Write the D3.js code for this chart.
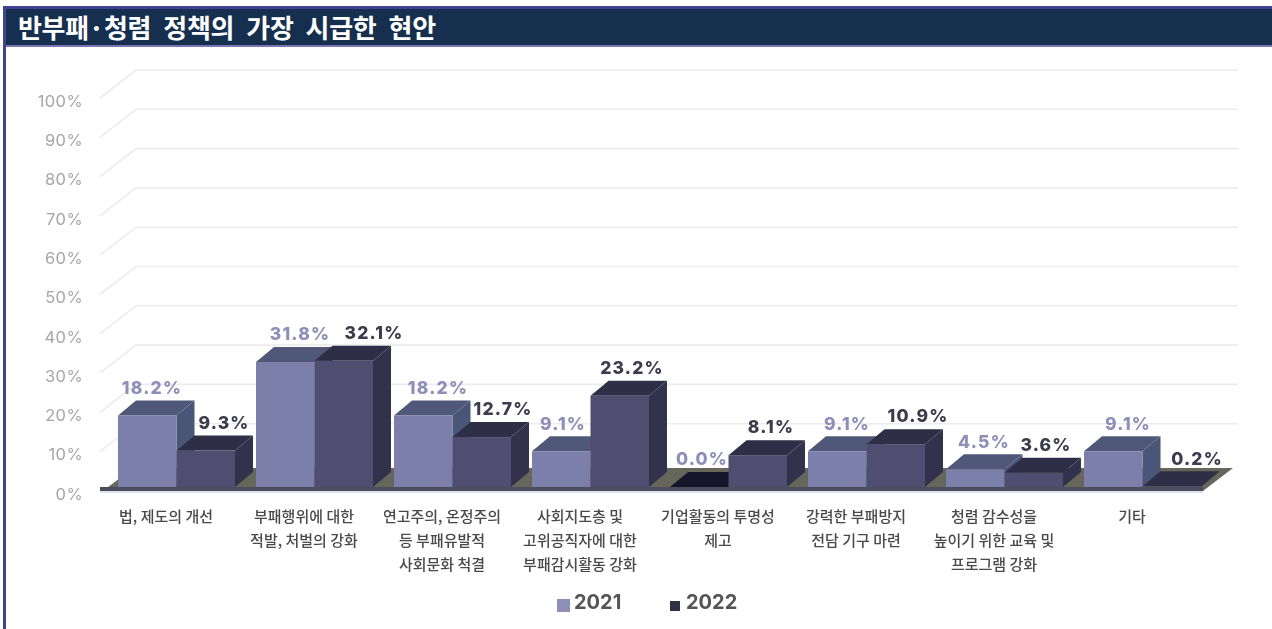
<!DOCTYPE html>
<html>
<head>
<meta charset="utf-8">
<script src="https://d3js.org/d3.v7.min.js"></script>
<style>
  html, body { margin: 0; padding: 0; background: #fff; }
  svg { display: block; }
  text { font-family: "Noto Sans CJK KR", "Noto Sans", sans-serif; }
</style>
</head>
<body>
<svg></svg>
<script>
const width = 1272, height = 629;

// Chart data
const title = "반부패·청렴 정책의 가장 시급한 현안";
const categories = [
    ["법, 제도의 개선"],
    ["부패행위에 대한", "적발, 처벌의 강화"],
    ["연고주의, 온정주의", "등 부패유발적", "사회문화 척결"],
    ["사회지도층 및", "고위공직자에 대한", "부패감시활동 강화"],
    ["기업활동의 투명성", "제고"],
    ["강력한 부패방지", "전담 기구 마련"],
    ["청렴 감수성을", "높이기 위한 교육 및", "프로그램 강화"],
    ["기타"]
];
const years = ["2021", "2022"];
const values2021 = [18.2, 31.8, 18.2, 9.1, 0.0, 9.1, 4.5, 9.1];
const values2022 = [9.3, 32.1, 12.7, 23.2, 8.1, 10.9, 3.6, 0.2];
const yTicks = [0, 10, 20, 30, 40, 50, 60, 70, 80, 90, 100];

const svg = d3.select("svg").attr("width", width).attr("height", height);

// The reference is a soft, upscaled image, so the plot gets a slight blur
svg.append("defs").append("filter")
    .attr("id", "soft")
    .attr("filterUnits", "userSpaceOnUse")
    .attr("x", 0).attr("y", 0).attr("width", width).attr("height", height)
    .append("feGaussianBlur").attr("stdDeviation", 0.55);

// Frame and title bar
svg.append("rect").attr("x", 3).attr("y", 6).attr("width", width - 3).attr("height", height - 6).attr("fill", "#3f4390");
svg.append("rect").attr("x", 6).attr("y", 46).attr("width", width - 6).attr("height", height - 46).attr("fill", "#fff");
svg.append("rect").attr("x", 6).attr("y", 9).attr("width", width - 6).attr("height", 36).attr("fill", "#172f4f");
svg.append("rect").attr("x", 6).attr("y", 45).attr("width", width - 6).attr("height", 2).attr("fill", "#7a77b0");
svg.append("text").attr("x", 18).attr("y", 37.5)
    .attr("fill", "#fff").attr("font-size", 26).attr("font-weight", 700)
    .attr("letter-spacing", -0.3)
    .attr("word-spacing", 6.5)
    .text(title);

const chart = svg.append("g").attr("filter", "url(#soft)");

// Scales
const x = d3.scaleBand().domain(d3.range(categories.length)).range([97, 1201]).padding(0);
const y = d3.scaleLinear().domain([0, 100]).range([491, 98]);

// Depth of the back wall and of the bars
const wallDx = 36, wallDy = -28;
const barDx = 18, barDy = -15;
const barLift = 4, barInset = 21, barW = 58.5;

// Back wall grid and side lines
const grid = chart.append("g").attr("fill", "none").attr("stroke", "#ececec").attr("stroke-width", 1.6);
yTicks.filter(d => d > 0).forEach(d => {
    grid.append("path").attr("d", d3.line()([
        [100, y(d)], [100 + wallDx, y(d) + wallDy], [1238, y(d) + wallDy]
    ]));
});

// Tick labels
const yAxis = chart.append("g")
    .attr("transform", "translate(83,3)")
    .call(d3.axisLeft(y).tickValues(yTicks).tickSize(0).tickPadding(0).tickFormat(d => d + "%"));
yAxis.select(".domain").remove();
yAxis.selectAll("text")
    .attr("fill", "#a6a6a6")
    .attr("font-size", 16.5)
    .attr("letter-spacing", 0.4)
    .style("font-family", "Inter, sans-serif");

// Floor
const floorFront = y(0), floorLeft = 103, floorRight = 1203;
chart.append("path")
    .attr("d", d3.line()([
        [floorLeft, floorFront], [floorLeft + 30, floorFront - 23],
        [floorRight + 30, floorFront - 23], [floorRight, floorFront]
    ]))
    .attr("fill", "#66665a");

// Bars, left to right, 2021 before 2022
const styles = [
    { front: "#7c7fa9", top: "#4f5878", side: "#4a5678", label: "#8d8fb8" },
    { front: "#504e6f", top: "#2f2f47", side: "#33334d", label: "#3b3b4c" }
];

// Hand placed label offsets from the band centre, the labels avoid each other
const labelDx = [
    [-14, -4, -4, -17, -16, -9, -10, -4],
    [58, 70, 61, 52, 53, 62, 52, 65]
];

categories.forEach((c, i) => {
    [values2021[i], values2022[i]].forEach((v, s) => {
        const st = styles[s];
        const x0 = x(i) + barInset + s * barW;
        const x1 = x0 + barW;
        const yBase = y(0) - barLift;
        const yTop = y(v) - barLift;
        const g = chart.append("g");

        // side, top, front
        g.append("path")
            .attr("d", d3.line()([
                [x1, yBase], [x1 + barDx, yBase + barDy], [x1 + barDx, yTop + barDy], [x1, yTop]
            ]))
            .attr("fill", st.side);
        g.append("path")
            .attr("d", d3.line()([
                [x0, yTop], [x0 + barDx, yTop + barDy], [x1 + barDx, yTop + barDy], [x1, yTop]
            ]))
            .attr("fill", v < 0.1 ? "#15182b" : st.top);
        g.append("rect")
            .attr("x", x0).attr("y", yTop)
            .attr("width", barW).attr("height", yBase - yTop)
            .attr("fill", st.front);
    });
});

// Front edge of the floor
chart.append("rect")
    .attr("x", floorLeft - 3).attr("y", y(0) - 4)
    .attr("width", floorRight - floorLeft + 3).attr("height", 4)
    .attr("fill", "#4c4e5c");
chart.append("rect")
    .attr("x", floorLeft - 3).attr("y", y(0))
    .attr("width", floorRight - floorLeft + 3).attr("height", 2)
    .attr("fill", "#dbe2ec");

// Value labels
categories.forEach((c, i) => {
    [values2021[i], values2022[i]].forEach((v, s) => {
        chart.append("text")
            .attr("x", x(i) + x.bandwidth() / 2 + labelDx[s][i])
            .attr("y", y(v) - barLift + barDy - 13)
            .attr("dy", "0.36em")
            .attr("text-anchor", "middle")
            .attr("fill", styles[s].label)
            .attr("font-size", 17.5)
            .attr("font-weight", 800)
            .attr("letter-spacing", 1.2)
            .style("font-family", "Inter, sans-serif")
            .text(v.toFixed(1) + "%");
    });
});

// Category labels
const catLabel = chart.selectAll(".cat")
    .data(categories)
    .enter().append("text")
    .attr("class", "cat")
    .attr("text-anchor", "middle")
    .attr("fill", "#4a4a4a")
    .attr("font-size", 15)
    .attr("font-weight", 500);
catLabel.selectAll("tspan")
    .data((d, i) => d.map(t => ({ t, i })))
    .enter().append("tspan")
    .attr("x", d => x(d.i) + x.bandwidth() / 2)
    .attr("y", (d, j) => 522 + j * 24)
    .text(d => d.t);

// Legend
const legend = [
    { year: years[0], color: "#8d8fb8", bx: 557, by: 599, size: 13, tx: 574 },
    { year: years[1], color: "#2f3040", bx: 670, by: 601, size: 10, tx: 686 }
];
legend.forEach(d => {
    chart.append("rect").attr("x", d.bx).attr("y", d.by).attr("width", d.size).attr("height", d.size).attr("fill", d.color);
    chart.append("text").attr("x", d.tx).attr("y", 609)
        .attr("fill", "#555").attr("font-size", 20).attr("font-weight", 700)
        .style("font-family", "Inter, sans-serif")
        .text(d.year);
});
</script>
</body>
</html>
